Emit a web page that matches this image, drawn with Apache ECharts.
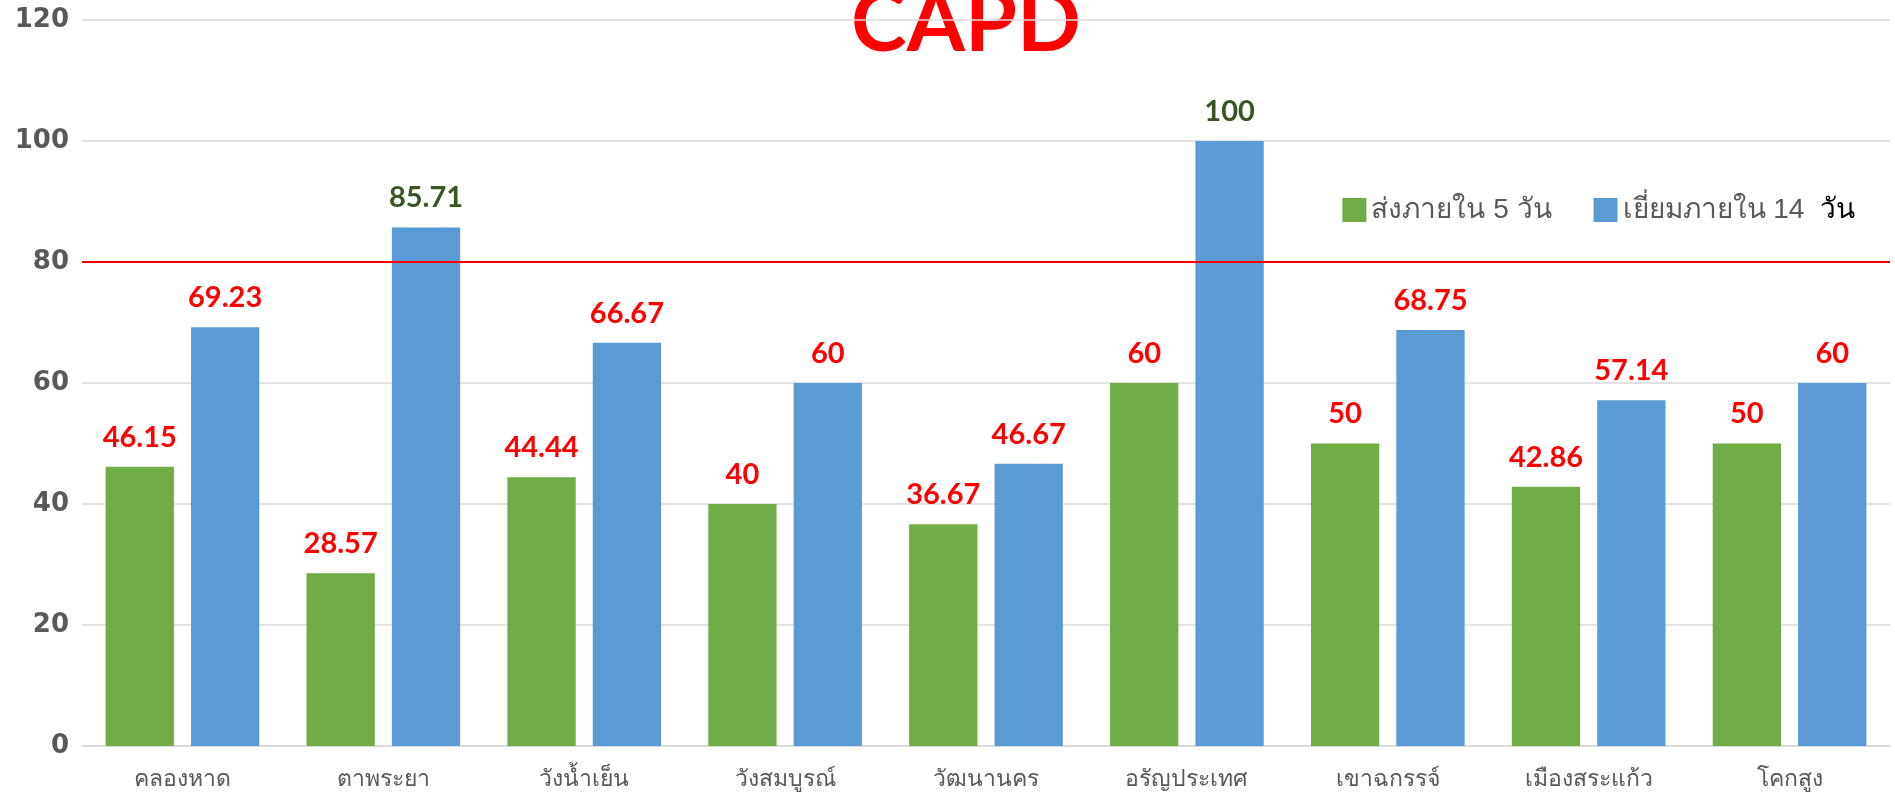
<!DOCTYPE html>
<html>
<head>
<meta charset="utf-8">
<script src="https://cdn.jsdelivr.net/npm/echarts@6/dist/echarts.min.js"></script>
<style>
html, body { margin: 0; padding: 0; background: #fff; }
#chartContainer { width: 1895px; height: 798px; }
</style>
</head>
<body>
<div id="chartContainer"></div>
<script>
const districts = ['คลองหาด', 'ตาพระยา', 'วังน้ำเย็น', 'วังสมบูรณ์', 'วัฒนานคร', 'อรัญประเทศ', 'เขาฉกรรจ์', 'เมืองสระแก้ว', 'โคกสูง'];
const sentWithin5 = [46.15, 28.57, 44.44, 40, 36.67, 60, 50, 42.86, 50];
const visitWithin14 = [69.23, 85.71, 66.67, 60, 46.67, 100, 68.75, 57.14, 60];
const targetLine = 80;

// labels above the target line are dark green, the rest red
const labelColor = (v) => (v >= targetLine ? '#375623' : '#ff0000');
const withLabels = (arr) => arr.map(v => ({ value: v, label: { color: labelColor(v) } }));

const myChart = echarts.init(document.getElementById('chartContainer'));

const barLabel = {
	show: true,
	position: 'top',
	distance: 15,
	fontSize: 29,
	fontWeight: 'bold',
	fontFamily: 'Lato'
};

const option = {
	animation: false,
	grid: {
		left: 82,
		right: 5,
		top: 20,
		bottom: 52
	},
	graphic: [
		{
			type: 'text',
			x: 966,
			y: 66,
			style: {
				text: 'CAPD',
				font: 'bold 84px Lato',
				fill: '#ff0000',
				textAlign: 'center',
				textVerticalAlign: 'bottom'
			}
		}
	],
	legend: {
		right: 35,
		top: 191,
		itemWidth: 24,
		itemHeight: 24,
		itemGap: 42,
		icon: 'rect',
		textStyle: {
			color: '#595959',
			fontSize: 28,
			rich: {
				k: { color: '#000000', fontSize: 28 }
			}
		},
		formatter: function (name) {
			if (name === 'เยี่ยมภายใน 14 วัน') {
				return 'เยี่ยมภายใน 14  {k|วัน}';
			}
			return name;
		},
		data: ['ส่งภายใน 5 วัน', 'เยี่ยมภายใน 14 วัน']
	},
	xAxis: {
		type: 'category',
		data: districts,
		axisTick: { show: false },
		axisLine: { lineStyle: { color: '#d9d9d9', width: 1.5 } },
		axisLabel: {
			color: '#595959',
			fontSize: 23,
			margin: 22,
			interval: 0
		}
	},
	yAxis: {
		type: 'value',
		min: 0,
		max: 120,
		interval: 20,
		splitLine: { lineStyle: { color: '#d9d9d9', width: 1.5 } },
		axisLabel: {
			color: '#595959',
			fontSize: 26,
			fontWeight: 'bold',
			fontFamily: 'DejaVu Sans',
			margin: 13
		}
	},
	series: [
		{
			name: 'ส่งภายใน 5 วัน',
			type: 'bar',
			barWidth: '34%',
			barGap: '25%',
			itemStyle: { color: '#70ad47' },
			label: barLabel,
			data: withLabels(sentWithin5),
			markLine: {
				silent: true,
				symbol: 'none',
				label: { show: false },
				lineStyle: { color: '#ff0000', width: 2, type: 'solid' },
				data: [{ yAxis: targetLine }]
			}
		},
		{
			name: 'เยี่ยมภายใน 14 วัน',
			type: 'bar',
			barWidth: '34%',
			itemStyle: { color: '#5b9bd5' },
			label: barLabel,
			data: withLabels(visitWithin14)
		}
	]
};

myChart.setOption(option);
</script>
</body>
</html>
